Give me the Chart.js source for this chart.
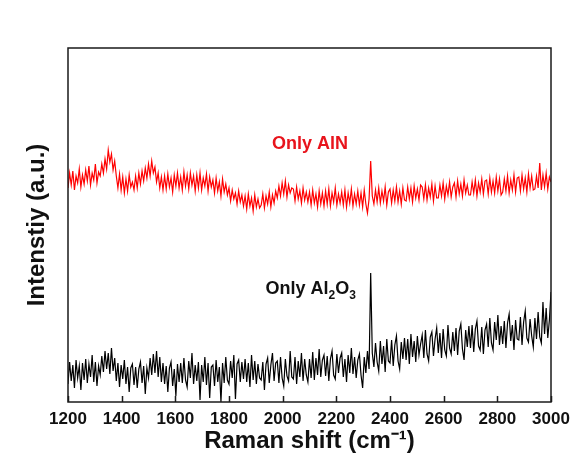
<!DOCTYPE html>
<html>
<head>
<meta charset="utf-8">
<script src="https://cdn.jsdelivr.net/npm/chart.js@4.4.1/dist/chart.umd.min.js"></script>
<style>
  html, body { margin: 0; padding: 0; background: #fff; }
  #chart { display: block; }
</style>
</head>
<body>
<canvas id="chart" width="577" height="461"></canvas>
<script>
// Raman shift grid (cm-1): 1200 .. 3000, one reading every 6 cm-1
const shiftStart = 1200;
const shiftStep = 6;
const xTicks = [1200, 1400, 1600, 1800, 2000, 2200, 2400, 2600, 2800, 3000];

// "Only AlN" spectrum (a.u.)
const alnIntensity = [
  214, 229, 217, 231, 212, 226, 219, 233, 215, 227,
  218, 232, 221, 236, 217, 229, 222, 238, 219, 230,
  226, 238, 229, 243, 233, 252, 240, 248, 232, 241,
  226, 214, 228, 212, 225, 209, 223, 211, 227, 215,
  220, 212, 226, 214, 229, 218, 231, 221, 234, 224,
  238, 226, 241, 229, 235, 220, 229, 214, 225, 212,
  226, 213, 228, 215, 224, 210, 227, 216, 229, 214,
  225, 212, 230, 216, 227, 213, 229, 217, 226, 211,
  227, 214, 229, 212, 224, 216, 228, 211, 225, 215,
  222, 209, 224, 211, 220, 206, 223, 210, 218, 207,
  214, 201, 212, 203, 209, 198, 211, 200, 207, 196,
  206, 193, 208, 196, 204, 191, 207, 195, 203, 194,
  197, 208, 194, 206, 198, 210, 195, 207, 199, 211,
  204, 216, 206, 219, 208, 221, 205, 217, 209, 214,
  213, 201, 215, 203, 211, 199, 214, 202, 210, 200,
  210, 197, 212, 199, 208, 195, 211, 198, 209, 196,
  211, 198, 213, 196, 209, 200, 214, 197, 208, 199,
  210, 197, 212, 195, 209, 199, 213, 196, 208, 198,
  211, 197, 209, 195, 212, 198, 189, 203, 241, 206,
  198, 212, 200, 214, 199, 211, 201, 215, 197, 210,
  213, 199, 212, 201, 215, 200, 211, 198, 214, 202,
  201, 215, 203, 214, 200, 216, 204, 213, 202, 217,
  215, 203, 217, 202, 214, 205, 218, 201, 216, 204,
  204, 217, 206, 219, 203, 216, 207, 220, 205, 215,
  219, 205, 221, 208, 218, 206, 222, 209, 217, 207,
  207, 220, 209, 222, 206, 219, 210, 223, 208, 221,
  222, 208, 224, 210, 221, 209, 225, 211, 223, 207,
  210, 223, 211, 226, 209, 222, 212, 227, 210, 224,
  225, 211, 227, 213, 224, 210, 228, 214, 226, 212,
  213, 226, 214, 239, 212, 227, 215, 229, 213, 225,
  220
];

// "Only Al2O3" spectrum (a.u.)
const aloIntensity = [
  18, 40, 21, 37, 14, 42, 24, 36, 12, 39,
  22, 43, 19, 38, 25, 47, 20, 40, 16, 36,
  27, 46, 30, 51, 33, 49, 28, 54, 31, 44,
  21, 39, 15, 37, 23, 42, 18, 35, 10, 34,
  38, 17, 35, 14, 33, 40, 19, 36, 8, 34,
  24, 44, 27, 48, 29, 51, 25, 45, 20, 39,
  18, 36, 10, 34, 40, 16, 33, 6, 38, 20,
  39, 19, 44, 22, 15, 41, 24, 49, 18, 37,
  21, 40, 2, 37, 20, 45, 17, 39, 4, 35,
  37, 16, 42, 20, 35, 0, 39, 19, 45, 22,
  18, 41, 24, 47, 3, 38, 42, 20, 40, 23,
  43, 20, 39, 15, 47, 22, 41, 18, 38, 24,
  22, 40, 12, 38, 44, 19, 37, 49, 21, 39,
  41, 19, 45, 24, 16, 43, 26, 21, 51, 25,
  23, 45, 18, 41, 25, 49, 21, 43, 27, 20,
  43, 24, 50, 22, 44, 27, 53, 25, 42, 47,
  26, 46, 21, 43, 51, 27, 23, 48, 29, 44,
  49, 25, 43, 20, 47, 29, 54, 28, 45, 24,
  42, 48, 27, 14, 45, 29, 51, 33, 129, 49,
  35, 59, 40, 31, 61, 38, 56, 30, 63, 41,
  39, 62, 36, 57, 66, 41, 33, 60, 43, 64,
  42, 63, 38, 68, 45, 61, 40, 66, 47, 58,
  67, 44, 72, 48, 41, 65, 70, 46, 63, 74,
  49, 69, 44, 73, 52, 46, 77, 54, 48, 70,
  51, 74, 47, 71, 78, 53, 42, 72, 55, 76,
  54, 77, 50, 73, 81, 56, 52, 75, 48, 72,
  78, 55, 84, 59, 52, 80, 62, 87, 57, 76,
  58, 81, 54, 79, 88, 61, 77, 52, 82, 63,
  62, 85, 57, 80, 91, 64, 60, 83, 66, 55,
  84, 63, 90, 65, 59, 100, 68, 94, 64, 82,
  110
];

function toPoints(values) {
  return values.map((v, i) => ({ x: shiftStart + i * shiftStep, y: v }));
}

// box, inward ticks and the two trace labels
const framePlugin = {
  id: 'frame',
  afterDraw(chart) {
    const { ctx, chartArea: a, scales: { x, y } } = chart;
    ctx.save();
    ctx.strokeStyle = '#1a1a1a';
    ctx.lineWidth = 1.5;
    ctx.strokeRect(a.left, a.top, a.right - a.left, a.bottom - a.top);

    ctx.beginPath();
    x.ticks.forEach(t => {
      const px = Math.round(x.getPixelForValue(t.value)) + 0.5;
      ctx.moveTo(px, a.bottom);
      ctx.lineTo(px, a.bottom - 6);
    });
    ctx.stroke();

    ctx.textBaseline = 'alphabetic';
    ctx.font = 'bold 18px Arial';
    ctx.fillStyle = '#e8141c';
    ctx.textAlign = 'center';
    ctx.fillText('Only AlN', x.getPixelForValue(2102), y.getPixelForValue(253));

    ctx.fillStyle = '#111';
    ctx.textAlign = 'left';
    let cx = x.getPixelForValue(1936);
    const by = y.getPixelForValue(108);
    const parts = [['Only Al', 18, 0], ['2', 12, 5], ['O', 18, 0], ['3', 12, 5]];
    parts.forEach(([txt, size, drop]) => {
      ctx.font = 'bold ' + size + 'px Arial';
      ctx.fillText(txt, cx, by + drop);
      cx += ctx.measureText(txt).width;
    });
    ctx.restore();
  }
};

new Chart(document.getElementById('chart'), {
  type: 'line',
  data: {
    datasets: [
      {
        label: 'Only Al2O3',
        data: toPoints(aloIntensity),
        borderColor: '#000000',
        borderWidth: 1.2,
        pointRadius: 0,
        tension: 0,
        fill: false
      },
      {
        label: 'Only AlN',
        data: toPoints(alnIntensity),
        borderColor: '#ff0000',
        borderWidth: 1.2,
        pointRadius: 0,
        tension: 0,
        fill: false
      }
    ]
  },
  options: {
    responsive: false,
    animation: false,
    events: [],
    layout: { padding: { left: 0, right: 26, top: 48, bottom: 0 } },
    scales: {
      x: {
        type: 'linear',
        min: 1200,
        max: 3000,
        afterBuildTicks: scale => { scale.ticks = xTicks.map(v => ({ value: v })); },
        afterFit: scale => { scale.height = 59; },
        grid: { display: false, drawTicks: false },
        border: { display: false },
        ticks: {
          color: '#111',
          padding: 7,
          maxRotation: 0,
          autoSkip: false,
          callback: v => String(v),
          font: { family: 'Arial', size: 17, weight: 'bold' }
        },
        title: {
          display: true,
          text: 'Raman shift (cm\u207B\u00B9)',
          color: '#111',
          padding: { top: 0, bottom: 5 },
          font: { family: 'Arial', size: 24, weight: 'bold' }
        }
      },
      y: {
        min: 0,
        max: 354,
        afterFit: scale => { scale.width = 68; },
        grid: { display: false, drawTicks: false },
        border: { display: false },
        ticks: { display: false },
        title: {
          display: true,
          text: 'Intenstiy (a.u.)',
          color: '#111',
          padding: { top: 23, bottom: 0 },
          font: { family: 'Arial', size: 24, weight: 'bold' }
        }
      }
    },
    plugins: {
      legend: { display: false },
      tooltip: { enabled: false }
    }
  },
  plugins: [framePlugin]
});
</script>
</body>
</html>
